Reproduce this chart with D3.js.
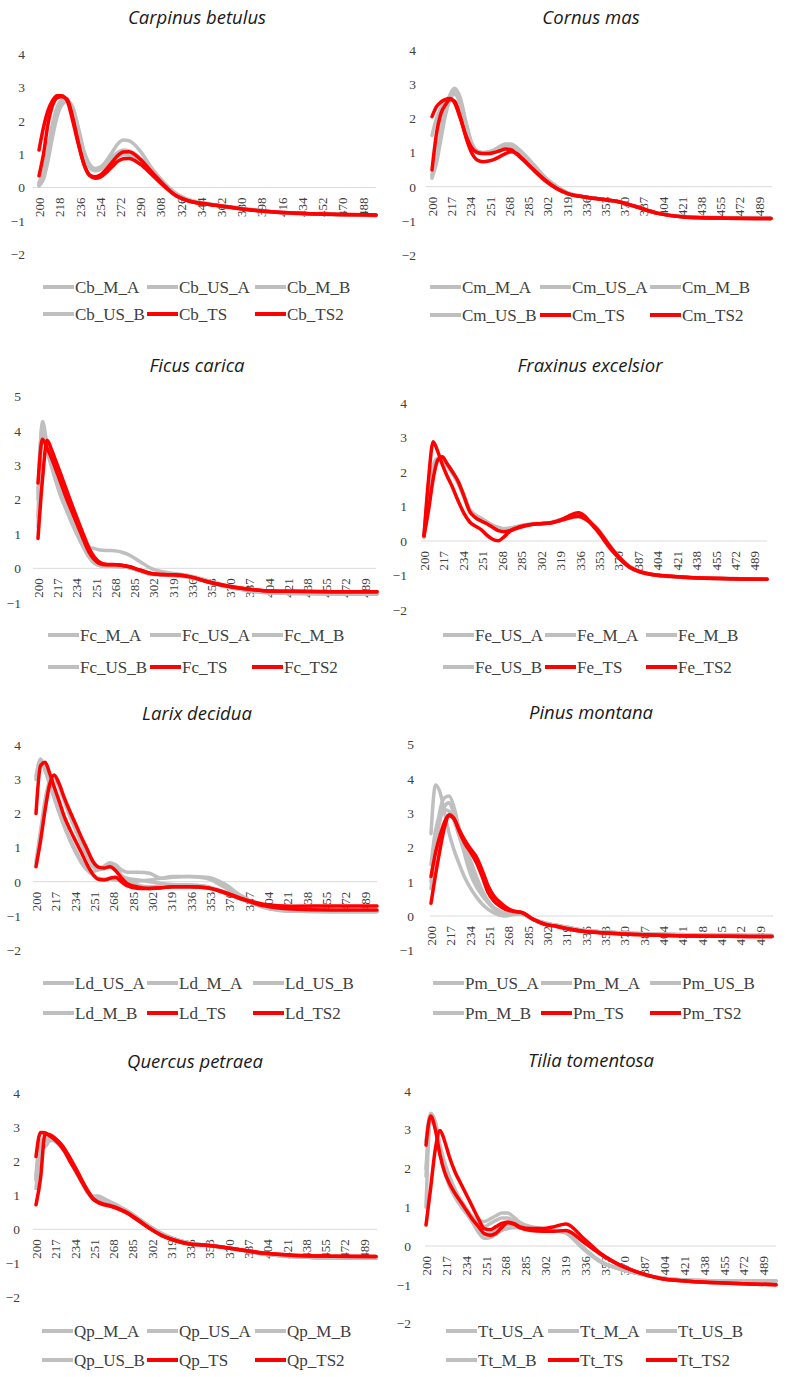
<!DOCTYPE html>
<html>
<head>
<meta charset="utf-8">
<script src="https://cdn.jsdelivr.net/npm/d3@7"></script>
<style>
html,body{margin:0;padding:0;background:#fff;}
svg{display:block;}
</style>
</head>
<body>
<div id="chart"></div>
<script>
// ---------- DATA ----------
const wl = [200,204,208,212,216,220,225,230,235,240,245,250,255,260,265,270,275,280,290,300,310,320,335,350,365,380,400,425,460,500];

const titles = ["Carpinus betulus","Cornus mas","Ficus carica","Fraxinus excelsior","Larix decidua","Pinus montana","Quercus petraea","Tilia tomentosa"];

const seriesNames = [
  ["Cb_M_A","Cb_US_A","Cb_M_B","Cb_US_B","Cb_TS","Cb_TS2"],
  ["Cm_M_A","Cm_US_A","Cm_M_B","Cm_US_B","Cm_TS","Cm_TS2"],
  ["Fc_M_A","Fc_US_A","Fc_M_B","Fc_US_B","Fc_TS","Fc_TS2"],
  ["Fe_US_A","Fe_M_A","Fe_M_B","Fe_US_B","Fe_TS","Fe_TS2"],
  ["Ld_US_A","Ld_M_A","Ld_US_B","Ld_M_B","Ld_TS","Ld_TS2"],
  ["Pm_US_A","Pm_M_A","Pm_US_B","Pm_M_B","Pm_TS","Pm_TS2"],
  ["Qp_M_A","Qp_US_A","Qp_M_B","Qp_US_B","Qp_TS","Qp_TS2"],
  ["Tt_US_A","Tt_M_A","Tt_US_B","Tt_M_B","Tt_TS","Tt_TS2"]
];

const yTicks = [
  [-2,-1,0,1,2,3,4],[-2,-1,0,1,2,3,4],[-1,0,1,2,3,4,5],[-2,-1,0,1,2,3,4],
  [-2,-1,0,1,2,3,4],[-1,0,1,2,3,4,5],[-2,-1,0,1,2,3,4],[-2,-1,0,1,2,3,4]
];
const xTickStep = [18,17,17,17,17,17,17,17];

// Carpinus betulus
const Cb_M_A  = [0.07,0.3,0.9,1.6,2.2,2.5,2.6,2.4,1.8,1.1,0.7,0.57,0.62,0.8,1.05,1.3,1.42,1.4,1.1,0.6,0.2,-0.12,-0.38,-0.48,-0.55,-0.62,-0.7,-0.76,-0.8,-0.83];
const Cb_US_A = [0.1,0.35,1.0,1.7,2.3,2.55,2.6,2.35,1.7,1.0,0.65,0.52,0.55,0.68,0.82,0.93,0.98,0.97,0.78,0.45,0.12,-0.17,-0.4,-0.49,-0.56,-0.63,-0.71,-0.77,-0.81,-0.84];
const Cb_M_B  = [0.15,0.5,1.2,1.9,2.4,2.6,2.6,2.3,1.6,0.95,0.6,0.5,0.55,0.7,0.88,1.0,1.05,1.03,0.82,0.48,0.13,-0.17,-0.4,-0.49,-0.56,-0.63,-0.71,-0.77,-0.81,-0.84];
const Cb_US_B = [0.05,0.25,0.8,1.5,2.1,2.45,2.58,2.4,1.75,1.05,0.68,0.55,0.58,0.72,0.9,1.05,1.12,1.1,0.88,0.5,0.14,-0.16,-0.4,-0.49,-0.56,-0.63,-0.71,-0.77,-0.81,-0.84];
const Cb_TS   = [1.12,1.8,2.3,2.6,2.75,2.75,2.6,2.0,1.3,0.7,0.38,0.32,0.38,0.55,0.75,0.95,1.06,1.07,0.85,0.48,0.12,-0.2,-0.42,-0.5,-0.57,-0.64,-0.71,-0.76,-0.8,-0.82];
const Cb_TS2  = [0.35,1.0,1.9,2.45,2.68,2.72,2.65,2.1,1.35,0.7,0.36,0.28,0.32,0.45,0.62,0.78,0.86,0.87,0.7,0.4,0.08,-0.2,-0.42,-0.5,-0.57,-0.64,-0.71,-0.76,-0.8,-0.82];

// Cornus mas
const Cm_M_A  = [1.5,2.0,2.3,2.5,2.65,2.7,2.4,1.7,1.2,1.0,0.98,1.0,1.05,1.15,1.22,1.2,1.1,0.95,0.6,0.25,0.0,-0.18,-0.29,-0.36,-0.43,-0.57,-0.77,-0.88,-0.91,-0.92];
const Cm_US_A = [0.3,0.8,1.6,2.3,2.7,2.88,2.6,1.9,1.3,1.05,1.0,1.02,1.08,1.18,1.25,1.25,1.15,1.0,0.65,0.28,0.02,-0.18,-0.29,-0.36,-0.43,-0.57,-0.77,-0.88,-0.91,-0.92];
const Cm_M_B  = [0.25,0.7,1.4,2.1,2.55,2.78,2.55,1.85,1.25,1.02,0.98,1.0,1.05,1.12,1.2,1.18,1.08,0.95,0.62,0.26,0.01,-0.19,-0.3,-0.37,-0.44,-0.58,-0.78,-0.89,-0.92,-0.93];
const Cm_US_B = [0.35,1.0,1.8,2.35,2.6,2.7,2.5,1.8,1.25,1.0,0.97,0.98,1.02,1.1,1.17,1.15,1.05,0.92,0.6,0.25,0.0,-0.19,-0.3,-0.37,-0.44,-0.58,-0.78,-0.89,-0.92,-0.93];
const Cm_TS   = [2.05,2.34,2.48,2.55,2.58,2.45,2.0,1.5,1.15,1.0,0.97,0.97,1.0,1.05,1.1,1.08,0.95,0.8,0.48,0.18,-0.05,-0.2,-0.3,-0.37,-0.44,-0.58,-0.78,-0.89,-0.92,-0.93];
const Cm_TS2  = [0.49,1.56,2.15,2.4,2.55,2.5,2.05,1.45,1.0,0.78,0.73,0.75,0.8,0.88,0.97,1.02,0.97,0.82,0.5,0.2,-0.04,-0.2,-0.3,-0.37,-0.44,-0.58,-0.78,-0.89,-0.92,-0.93];

// Ficus carica
const Fc_M_A  = [2.0,4.27,3.6,3.1,2.65,2.25,1.85,1.45,1.1,0.8,0.63,0.57,0.53,0.52,0.52,0.5,0.46,0.4,0.2,0.0,-0.1,-0.15,-0.22,-0.35,-0.48,-0.58,-0.68,-0.72,-0.74,-0.75];
const Fc_US_A = [1.5,4.0,3.45,3.0,2.55,2.15,1.75,1.35,1.0,0.65,0.35,0.15,0.08,0.06,0.06,0.05,0.04,0.02,-0.08,-0.17,-0.2,-0.21,-0.27,-0.4,-0.52,-0.62,-0.7,-0.73,-0.74,-0.75];
const Fc_M_B  = [1.2,3.9,3.4,2.95,2.5,2.1,1.7,1.3,0.95,0.62,0.33,0.14,0.07,0.05,0.05,0.05,0.04,0.02,-0.08,-0.17,-0.2,-0.21,-0.27,-0.4,-0.52,-0.62,-0.7,-0.73,-0.74,-0.75];
const Fc_US_B = [2.2,4.1,3.5,3.05,2.6,2.2,1.8,1.4,1.05,0.7,0.4,0.2,0.1,0.08,0.07,0.06,0.05,0.03,-0.07,-0.16,-0.19,-0.2,-0.26,-0.39,-0.51,-0.61,-0.69,-0.72,-0.73,-0.74];
const Fc_TS   = [2.48,3.75,3.5,3.2,2.85,2.5,2.05,1.65,1.25,0.85,0.48,0.25,0.13,0.1,0.1,0.1,0.08,0.05,-0.05,-0.15,-0.18,-0.19,-0.25,-0.39,-0.5,-0.58,-0.65,-0.67,-0.68,-0.68];
const Fc_TS2  = [0.87,2.6,3.72,3.45,3.1,2.75,2.3,1.85,1.42,1.0,0.6,0.32,0.17,0.12,0.11,0.1,0.08,0.05,-0.05,-0.15,-0.18,-0.19,-0.25,-0.39,-0.5,-0.58,-0.65,-0.67,-0.68,-0.68];

// Fraxinus excelsior
const Fe_US_A = [0.1,1.6,2.2,2.4,2.4,2.2,1.95,1.65,1.25,0.9,0.75,0.65,0.55,0.45,0.38,0.35,0.37,0.4,0.47,0.5,0.52,0.6,0.7,0.4,-0.25,-0.75,-0.97,-1.05,-1.09,-1.1];
const Fe_M_A  = [0.2,1.2,2.0,2.35,2.42,2.22,1.98,1.7,1.3,0.88,0.72,0.62,0.52,0.42,0.35,0.32,0.34,0.38,0.46,0.5,0.52,0.6,0.7,0.38,-0.26,-0.76,-0.98,-1.05,-1.09,-1.1];
const Fe_M_B  = [0.15,1.4,2.1,2.38,2.4,2.2,1.96,1.68,1.28,0.9,0.74,0.64,0.54,0.44,0.37,0.34,0.36,0.4,0.47,0.5,0.53,0.62,0.72,0.4,-0.25,-0.75,-0.97,-1.05,-1.09,-1.1];
const Fe_US_B = [0.12,1.0,1.9,2.3,2.42,2.25,2.0,1.72,1.32,0.92,0.76,0.66,0.56,0.46,0.4,0.36,0.37,0.41,0.48,0.51,0.53,0.63,0.74,0.42,-0.24,-0.74,-0.97,-1.05,-1.09,-1.1];
const Fe_TS   = [0.15,1.8,2.88,2.6,2.22,1.9,1.55,1.15,0.8,0.55,0.43,0.33,0.17,0.05,0.01,0.12,0.28,0.37,0.46,0.5,0.52,0.62,0.82,0.35,-0.3,-0.77,-0.98,-1.04,-1.09,-1.11];
const Fe_TS2  = [0.15,0.9,1.8,2.35,2.44,2.25,2.0,1.72,1.3,0.85,0.68,0.58,0.5,0.4,0.3,0.27,0.3,0.35,0.45,0.5,0.52,0.6,0.72,0.4,-0.25,-0.75,-0.97,-1.04,-1.09,-1.11];

// Larix decidua
const Ld_US_A = [3.0,3.6,3.3,2.9,2.5,2.1,1.65,1.25,0.92,0.6,0.35,0.2,0.1,0.08,0.07,0.05,0.03,0.0,0.02,0.05,0.1,0.15,0.15,0.1,-0.15,-0.45,-0.75,-0.87,-0.88,-0.88];
const Ld_M_A  = [3.1,3.55,3.25,2.85,2.45,2.05,1.6,1.2,0.85,0.55,0.35,0.3,0.35,0.45,0.55,0.5,0.35,0.28,0.28,0.25,0.1,0.13,0.15,0.13,-0.05,-0.4,-0.72,-0.85,-0.87,-0.87];
const Ld_US_B = [0.5,1.3,2.3,2.9,3.1,2.85,2.4,1.95,1.55,1.15,0.8,0.5,0.4,0.45,0.55,0.45,0.2,0.05,-0.1,-0.15,-0.12,-0.1,-0.1,-0.15,-0.3,-0.5,-0.72,-0.83,-0.86,-0.87];
const Ld_M_B  = [0.6,1.5,2.4,2.95,3.05,2.8,2.35,1.9,1.5,1.1,0.75,0.45,0.35,0.38,0.5,0.4,0.18,0.1,0.05,0.0,-0.05,-0.08,-0.1,-0.14,-0.3,-0.5,-0.74,-0.86,-0.88,-0.88];
const Ld_TS   = [2.0,3.4,3.5,3.18,2.78,2.4,1.9,1.52,1.18,0.85,0.5,0.22,0.07,0.05,0.1,0.13,0.0,-0.12,-0.2,-0.2,-0.18,-0.15,-0.15,-0.18,-0.3,-0.48,-0.66,-0.72,-0.71,-0.71];
const Ld_TS2  = [0.44,1.2,2.1,2.85,3.13,2.9,2.45,2.05,1.68,1.3,0.95,0.6,0.43,0.4,0.44,0.33,0.12,-0.05,-0.16,-0.2,-0.18,-0.15,-0.15,-0.18,-0.32,-0.5,-0.7,-0.8,-0.83,-0.83];

// Pinus montana
const Pm_US_A = [2.4,3.82,3.6,3.0,2.4,1.95,1.5,1.1,0.8,0.55,0.35,0.2,0.1,0.03,0.0,0.03,0.05,0.05,-0.1,-0.2,-0.27,-0.33,-0.42,-0.46,-0.49,-0.51,-0.53,-0.55,-0.56,-0.57];
const Pm_M_A  = [1.0,2.2,3.1,3.45,3.5,3.2,2.5,1.75,1.2,0.85,0.6,0.4,0.25,0.15,0.08,0.06,0.06,0.05,-0.1,-0.2,-0.27,-0.33,-0.42,-0.46,-0.49,-0.51,-0.53,-0.55,-0.56,-0.57];
const Pm_US_B = [1.5,2.5,2.95,3.1,3.05,2.8,2.3,1.8,1.35,0.95,0.65,0.4,0.22,0.12,0.07,0.06,0.06,0.05,-0.1,-0.2,-0.27,-0.33,-0.42,-0.46,-0.49,-0.51,-0.53,-0.55,-0.56,-0.57];
const Pm_M_B  = [0.8,2.0,2.8,3.2,3.3,3.0,2.55,2.05,1.6,1.15,0.75,0.45,0.25,0.12,0.05,0.05,0.06,0.05,-0.1,-0.2,-0.27,-0.33,-0.42,-0.46,-0.49,-0.51,-0.53,-0.55,-0.56,-0.57];
const Pm_TS   = [1.15,1.85,2.35,2.75,2.95,2.85,2.5,2.2,1.95,1.72,1.34,0.9,0.6,0.42,0.28,0.18,0.13,0.1,-0.1,-0.24,-0.3,-0.37,-0.45,-0.49,-0.52,-0.54,-0.56,-0.58,-0.59,-0.6];
const Pm_TS2  = [0.37,1.2,1.95,2.6,2.92,2.85,2.45,2.1,1.85,1.55,1.15,0.7,0.45,0.3,0.2,0.15,0.12,0.1,-0.1,-0.24,-0.3,-0.37,-0.45,-0.49,-0.52,-0.54,-0.56,-0.58,-0.59,-0.6];

// Quercus petraea
const Qp_M_A  = [1.45,2.5,2.7,2.72,2.65,2.55,2.35,2.05,1.75,1.45,1.18,0.98,0.98,0.9,0.82,0.74,0.65,0.56,0.33,0.1,-0.1,-0.25,-0.4,-0.46,-0.52,-0.6,-0.72,-0.8,-0.84,-0.85];
const Qp_US_A = [1.6,2.6,2.43,2.6,2.62,2.52,2.33,2.03,1.72,1.4,1.1,0.92,0.85,0.8,0.75,0.68,0.6,0.52,0.3,0.08,-0.12,-0.27,-0.41,-0.47,-0.53,-0.61,-0.72,-0.8,-0.84,-0.85];
const Qp_M_B  = [1.2,2.3,2.65,2.7,2.65,2.55,2.35,2.05,1.73,1.42,1.12,0.95,0.92,0.85,0.78,0.7,0.62,0.54,0.32,0.09,-0.11,-0.26,-0.4,-0.47,-0.53,-0.61,-0.72,-0.8,-0.84,-0.85];
const Qp_US_B = [1.5,2.55,2.6,2.65,2.6,2.5,2.3,2.0,1.7,1.4,1.12,0.93,0.88,0.83,0.77,0.7,0.62,0.54,0.32,0.09,-0.11,-0.26,-0.4,-0.47,-0.53,-0.61,-0.72,-0.8,-0.84,-0.85];
const Qp_TS   = [2.14,2.85,2.84,2.75,2.65,2.52,2.3,2.0,1.72,1.42,1.13,0.9,0.78,0.72,0.68,0.63,0.56,0.48,0.26,0.03,-0.17,-0.3,-0.43,-0.47,-0.53,-0.6,-0.7,-0.76,-0.79,-0.8];
const Qp_TS2  = [0.72,1.5,2.8,2.78,2.7,2.58,2.38,2.1,1.8,1.48,1.17,0.92,0.8,0.74,0.7,0.65,0.58,0.5,0.28,0.04,-0.16,-0.3,-0.43,-0.47,-0.53,-0.6,-0.7,-0.76,-0.79,-0.8];

// Tilia tomentosa
const Tt_US_A = [2.7,3.42,3.2,2.6,2.15,1.8,1.45,1.18,0.95,0.75,0.65,0.63,0.7,0.78,0.85,0.85,0.75,0.62,0.5,0.45,0.42,0.35,-0.05,-0.4,-0.58,-0.7,-0.82,-0.88,-0.9,-0.9];
const Tt_M_A  = [1.0,3.35,3.1,2.4,1.9,1.55,1.25,1.02,0.82,0.6,0.35,0.2,0.22,0.3,0.4,0.45,0.47,0.47,0.45,0.43,0.4,0.33,-0.08,-0.42,-0.58,-0.7,-0.82,-0.88,-0.9,-0.9];
const Tt_US_B = [2.0,3.3,3.15,2.55,2.05,1.7,1.4,1.12,0.9,0.7,0.55,0.5,0.58,0.66,0.72,0.72,0.65,0.55,0.48,0.44,0.4,0.34,-0.06,-0.41,-0.58,-0.7,-0.82,-0.88,-0.9,-0.9];
const Tt_M_B  = [1.8,3.25,3.05,2.5,2.0,1.65,1.35,1.1,0.88,0.65,0.45,0.3,0.32,0.42,0.52,0.55,0.52,0.5,0.46,0.43,0.4,0.34,-0.06,-0.41,-0.58,-0.7,-0.82,-0.88,-0.9,-0.9];
const Tt_TS   = [2.6,3.35,3.0,2.35,1.9,1.62,1.35,1.13,0.9,0.68,0.5,0.32,0.28,0.33,0.48,0.6,0.58,0.5,0.45,0.45,0.5,0.57,0.2,-0.2,-0.47,-0.66,-0.83,-0.91,-0.96,-1.0];
const Tt_TS2  = [0.54,1.5,2.5,2.98,2.7,2.3,1.9,1.6,1.3,1.0,0.7,0.45,0.42,0.5,0.58,0.62,0.57,0.48,0.4,0.38,0.38,0.4,0.1,-0.22,-0.48,-0.66,-0.83,-0.91,-0.96,-1.0];

const panelSeries = [
  [Cb_M_A,Cb_US_A,Cb_M_B,Cb_US_B,Cb_TS,Cb_TS2],
  [Cm_M_A,Cm_US_A,Cm_M_B,Cm_US_B,Cm_TS,Cm_TS2],
  [Fc_M_A,Fc_US_A,Fc_M_B,Fc_US_B,Fc_TS,Fc_TS2],
  [Fe_US_A,Fe_M_A,Fe_M_B,Fe_US_B,Fe_TS,Fe_TS2],
  [Ld_US_A,Ld_M_A,Ld_US_B,Ld_M_B,Ld_TS,Ld_TS2],
  [Pm_US_A,Pm_M_A,Pm_US_B,Pm_M_B,Pm_TS,Pm_TS2],
  [Qp_M_A,Qp_US_A,Qp_M_B,Qp_US_B,Qp_TS,Qp_TS2],
  [Tt_US_A,Tt_M_A,Tt_US_B,Tt_M_B,Tt_TS,Tt_TS2]
];
const seriesIsRed = [false,false,false,false,true,true];

// ---------- LAYOUT (positions only) ----------
const layout = [
  {ox:0,   x200:39, x500:376, g0:33, g1:376, zeroY:187.5, k:33.4, ylabR:25, tx:197, ty:18,   leg:[43,147,255], ly:[287,314]},
  {ox:393, x200:39, x500:378, g0:33, g1:379, zeroY:186.7, k:34.2, ylabR:23, tx:198, ty:18,   leg:[37,147,257], ly:[287,315]},
  {ox:0,   x200:38, x500:377, g0:33, g1:376, zeroY:568.3, k:34.4, ylabR:21, tx:197, ty:366,  leg:[48,150,252], ly:[635,667]},
  {ox:393, x200:31, x500:374, g0:28, g1:374, zeroY:541,   k:34.5, ylabR:14, tx:197, ty:366,  leg:[50,152,253], ly:[635,667]},
  {ox:0,   x200:36, x500:377, g0:33, g1:377, zeroY:881.7, k:34.1, ylabR:21, tx:197, ty:714,  leg:[43,147,253], ly:[983,1013]},
  {ox:393, x200:38, x500:379, g0:37, g1:380, zeroY:916,   k:34.3, ylabR:21, tx:198, ty:713,  leg:[40,148,257], ly:[983,1013]},
  {ox:0,   x200:36, x500:376, g0:33, g1:377, zeroY:1229.3,k:34,   ylabR:20, tx:195, ty:1062, leg:[42,147,255], ly:[1331,1360]},
  {ox:393, x200:33, x500:383, g0:32, g1:383, zeroY:1246,  k:38.8, ylabR:18, tx:198, ty:1061, leg:[53,155,253], ly:[1331,1360]}
];

// ---------- DRAW ----------
const W = 787, H = 1377;
const svg = d3.select("#chart").append("svg").attr("width", W).attr("height", H);
svg.append("rect").attr("width", W).attr("height", H).attr("fill", "#fff");

const GRAY = "#bfbfbf", RED = "#ff0000", TEXT = "#404040";
const serif = "'Liberation Serif','Times New Roman',serif";

panelSeries.forEach((series, p) => {
  const L = layout[p];
  const g = svg.append("g").attr("transform", `translate(${L.ox},0)`);
  const ticks = yTicks[p];
  const x = d3.scaleLinear().domain([200, 500]).range([L.x200, L.x500]);
  const y = d3.scaleLinear().domain([0, 1]).range([L.zeroY, L.zeroY - L.k]);

  // title
  g.append("text").attr("x", L.tx).attr("y", L.ty).attr("dy", "0.35em")
    .attr("text-anchor", "middle").attr("font-family", "'Open Sans', Lato, sans-serif")
    .attr("font-style", "italic").attr("font-weight", 400).attr("font-size", 18.5).attr("fill", "#1a1a1a")
    .text(titles[p]);

  // y axis (labels only)
  const yAxis = d3.axisLeft(y).tickValues(ticks).tickSize(0).tickPadding(0).tickFormat(d3.format("d"));
  const ya = g.append("g").attr("transform", `translate(${L.ylabR},0)`).call(yAxis);
  ya.select(".domain").remove();
  ya.selectAll("text").attr("font-family", serif).attr("font-size", 13.5).attr("fill", TEXT);

  // zero gridline
  g.append("line").attr("x1", L.g0).attr("x2", L.g1).attr("y1", y(0)).attr("y2", y(0))
    .attr("stroke", "#d9d9d9").attr("stroke-width", 1);

  // x axis labels (rotated)
  const xt = d3.range(200, 501, xTickStep[p]);
  const xAxis = d3.axisBottom(x).tickValues(xt).tickSize(0).tickPadding(0).tickFormat(d3.format("d"));
  const xa = g.append("g").attr("transform", `translate(0,${y(0)})`).call(xAxis);
  xa.select(".domain").remove();
  xa.selectAll("text")
    .attr("font-family", serif).attr("font-size", 13).attr("fill", TEXT)
    .attr("text-anchor", "end")
    .attr("transform", "translate(0,10) rotate(-90)")
    .attr("x", 0).attr("y", 0).attr("dy", "0.35em");

  // lines
  const line = d3.line().x((d, i) => x(wl[i])).y(d => y(d)).curve(d3.curveMonotoneX);
  series.forEach((vals, s) => {
    g.append("path").datum(vals).attr("d", line).attr("fill", "none")
      .attr("stroke", seriesIsRed[s] ? RED : GRAY)
      .attr("stroke-width", 3.5).attr("stroke-linejoin", "round").attr("stroke-linecap", "round");
  });

  // legend
  seriesNames[p].forEach((name, s) => {
    const col = s % 3, row = Math.floor(s / 3);
    const lx = L.leg[col], ly = L.ly[row];
    g.append("line").attr("x1", lx).attr("x2", lx + 31).attr("y1", ly).attr("y2", ly)
      .attr("stroke", seriesIsRed[s] ? RED : GRAY).attr("stroke-width", 4);
    g.append("text").attr("x", lx + 32).attr("y", ly).attr("dy", "0.35em")
      .attr("font-family", serif).attr("font-size", 17).attr("fill", TEXT).text(name);
  });
});
</script>
</body>
</html>
